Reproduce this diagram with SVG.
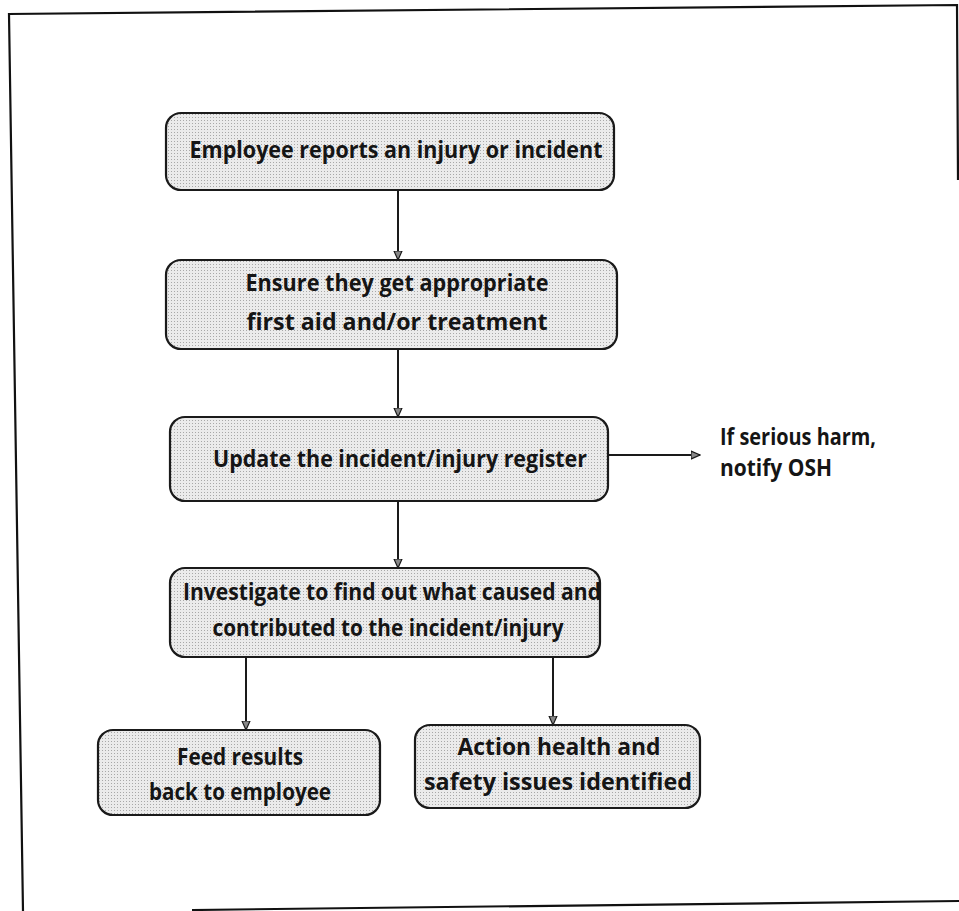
<svg xmlns="http://www.w3.org/2000/svg" width="959" height="911" viewBox="0 0 959 911">
<style>
.box{stroke:#1a1a1a;stroke-width:2.2}
.t{font-family:"Open Sans","Liberation Sans",sans-serif;font-weight:700;font-size:24px;fill:#151515;text-anchor:middle}
.s{font-family:"Open Sans","Liberation Sans",sans-serif;font-weight:700;font-size:24px;fill:#151515}
.c{stroke:#1a1a1a;stroke-width:2;fill:none}
.frame{stroke:#111;stroke-width:2.2;fill:none}
</style>
<defs>
<pattern id="dots" width="3" height="3" patternUnits="userSpaceOnUse">
<rect width="3" height="3" fill="#ebebeb"/>
<rect width="1" height="1" fill="#a8a8a8"/>
</pattern>
<marker id="ah" markerWidth="10" markerHeight="10" refX="9" refY="5" orient="auto" markerUnits="userSpaceOnUse">
<path d="M0,1 L9,5 L0,9 Z" fill="#888" stroke="#1a1a1a" stroke-width="1.2"/>
</marker>
</defs>
<rect width="959" height="911" fill="#fff"/>
<g id="frame">
<polyline class="frame" points="23,911 9,14 957,5 958,180"/>
<line class="frame" x1="192" y1="910" x2="959" y2="901"/>
</g>
<g id="n1">
<rect class="box" x="166" y="113" width="448" height="77" rx="15" style="fill:url(#dots)"/>
<text class="t" x="396" y="158" textLength="413" lengthAdjust="spacingAndGlyphs">Employee reports an injury or incident</text>
</g>
<g id="n2">
<rect class="box" x="166" y="260" width="451" height="89" rx="15" style="fill:url(#dots)"/>
<text class="t" x="397" y="291" textLength="303" lengthAdjust="spacingAndGlyphs">Ensure they get appropriate</text>
<text class="t" x="397" y="330" textLength="301" lengthAdjust="spacingAndGlyphs">first aid and/or treatment</text>
</g>
<g id="n3">
<rect class="box" x="170" y="417" width="438" height="84" rx="15" style="fill:url(#dots)"/>
<text class="t" x="400" y="467" textLength="374" lengthAdjust="spacingAndGlyphs">Update the incident/injury register</text>
</g>
<g id="n3note">
<text class="s" x="720" y="445" textLength="156" lengthAdjust="spacingAndGlyphs">If serious harm,</text>
<text class="s" x="720" y="476" textLength="112" lengthAdjust="spacingAndGlyphs">notify OSH</text>
</g>
<g id="n4">
<rect class="box" x="170" y="568" width="430" height="89" rx="15" style="fill:url(#dots)"/>
<text class="t" x="392" y="600" textLength="418" lengthAdjust="spacingAndGlyphs">Investigate to find out what caused and</text>
<text class="t" x="388" y="636" textLength="351" lengthAdjust="spacingAndGlyphs">contributed to the incident/injury</text>
</g>
<g id="n5">
<rect class="box" x="98" y="730" width="282" height="85" rx="15" style="fill:url(#dots)"/>
<text class="t" x="240" y="765" textLength="126" lengthAdjust="spacingAndGlyphs">Feed results</text>
<text class="t" x="240" y="800" textLength="182" lengthAdjust="spacingAndGlyphs">back to employee</text>
</g>
<g id="n6">
<rect class="box" x="415" y="725" width="285" height="83" rx="15" style="fill:url(#dots)"/>
<text class="t" x="559" y="755" textLength="203" lengthAdjust="spacingAndGlyphs">Action health and</text>
<text class="t" x="558" y="790" textLength="268" lengthAdjust="spacingAndGlyphs">safety issues identified</text>
</g>
<g id="connectors">
<line class="c" x1="398" y1="190" x2="398" y2="260" marker-end="url(#ah)"/>
<line class="c" x1="398" y1="349" x2="398" y2="417" marker-end="url(#ah)"/>
<line class="c" x1="609" y1="455" x2="700" y2="455" marker-end="url(#ah)"/>
<line class="c" x1="398" y1="501" x2="398" y2="568" marker-end="url(#ah)"/>
<line class="c" x1="246" y1="657" x2="246" y2="730" marker-end="url(#ah)"/>
<line class="c" x1="553" y1="657" x2="553" y2="725" marker-end="url(#ah)"/>
</g>
</svg>
